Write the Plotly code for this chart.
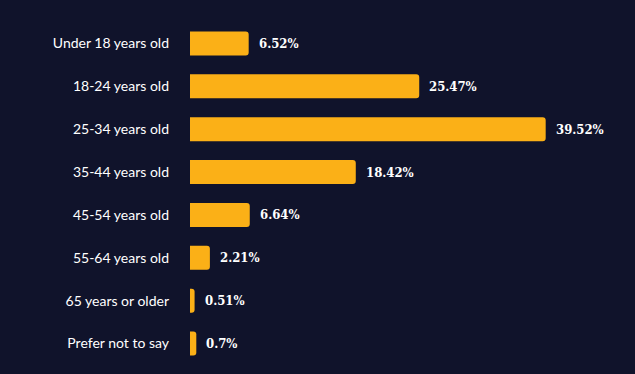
import plotly.graph_objects as go

categories = ["Under 18 years old", "18-24 years old", "25-34 years old", "35-44 years old",
              "45-54 years old", "55-64 years old", "65 years or older", "Prefer not to say"]
values = [6.52, 25.47, 39.52, 18.42, 6.64, 2.21, 0.51, 0.7]
labels = ["6.52%", "25.47%", "39.52%", "18.42%", "6.64%", "2.21%", "0.51%", "0.7%"]

BG = "#10132b"
BAR = "#fbb017"

fig = go.Figure(go.Bar(
    x=values, y=categories, orientation="h",
    marker=dict(color=BAR, line=dict(width=0), cornerradius=3),
    hoverinfo="skip",
))

for v, c, t in zip(values, categories, labels):
    fig.add_annotation(x=v, y=c, text=t, showarrow=False, xanchor="left", xshift=8,
                       font=dict(family="DejaVu Serif Condensed, DejaVu Serif", size=13,
                                 color="white", weight="bold"))

fig.update_layout(
    width=635, height=374,
    paper_bgcolor=BG, plot_bgcolor=BG,
    margin=dict(l=190, r=0, t=21.5, b=8.5),
    bargap=0.44,
    showlegend=False,
    xaxis=dict(range=[0, 445 / 9.0], visible=False, fixedrange=True),
    yaxis=dict(autorange="reversed", showgrid=False, zeroline=False, showline=False,
               ticks="", ticklabelstandoff=20,
               tickfont=dict(family="Lato", size=14, color="white")),
)

fig.write_html("out.html", config={"displayModeBar": False},
               post_script="document.body.style.margin='0';document.body.style.background='" + BG + "';")
